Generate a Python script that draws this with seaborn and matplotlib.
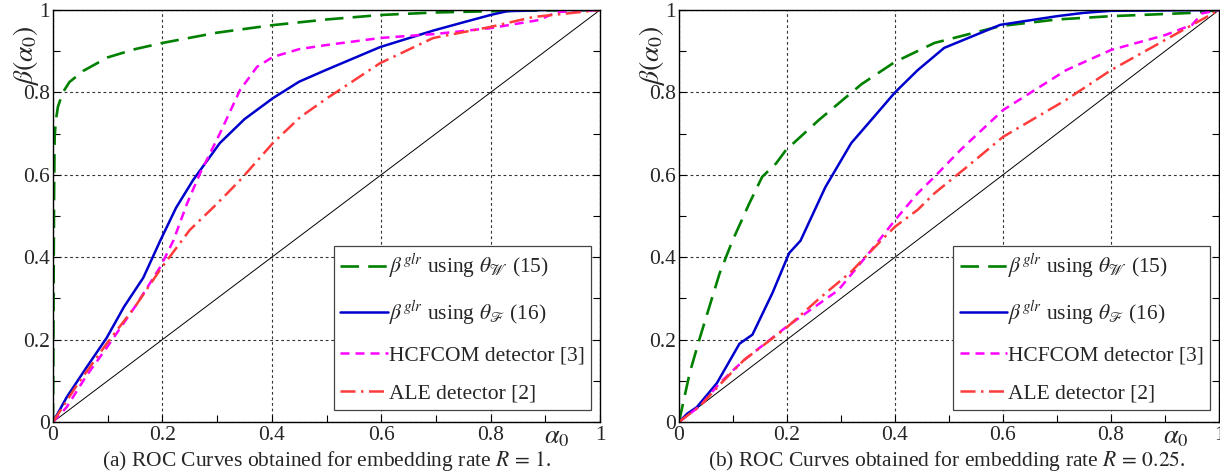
import numpy as np
import pandas as pd
import matplotlib
matplotlib.use("Agg")
import matplotlib.pyplot as plt
import seaborn as sns

# ---------------- data ----------------
# Panel (a): embedding rate R = 1
a_glrW_x = [0, 0.001, 0.002, 0.003, 0.005, 0.009, 0.018, 0.03, 0.055, 0.1, 0.15, 0.2, 0.3, 0.4, 0.5, 0.6, 0.7, 0.8, 0.9, 1.0]
a_glrW_y = [0, 0.30, 0.55, 0.69, 0.73, 0.765, 0.80, 0.825, 0.852, 0.885, 0.905, 0.92, 0.945, 0.963, 0.977, 0.988, 0.994, 0.997, 0.999, 1.0]
a_glrF_x = [0, 0.025, 0.06, 0.098, 0.13, 0.165, 0.196, 0.225, 0.256, 0.305, 0.35, 0.402, 0.45, 0.5, 0.598, 0.695, 0.75, 0.8, 0.83, 0.9, 1.0]
a_glrF_y = [0, 0.06, 0.13, 0.204, 0.28, 0.35, 0.44, 0.52, 0.587, 0.677, 0.735, 0.786, 0.826, 0.855, 0.91, 0.95, 0.97, 0.988, 0.997, 1.0, 1.0]
a_hcf_x = [0, 0.025, 0.06, 0.098, 0.15, 0.196, 0.22, 0.245, 0.269, 0.305, 0.342, 0.373, 0.402, 0.45, 0.5, 0.598, 0.7, 0.8, 0.89, 0.92, 1.0]
a_hcf_y = [0, 0.036, 0.11, 0.18, 0.28, 0.376, 0.44, 0.53, 0.604, 0.70, 0.806, 0.862, 0.886, 0.905, 0.915, 0.932, 0.942, 0.956, 0.976, 0.995, 1.0]
a_ale_x = [0, 0.044, 0.098, 0.15, 0.196, 0.25, 0.3, 0.342, 0.402, 0.452, 0.5, 0.598, 0.695, 0.8, 0.878, 1.0]
a_ale_y = [0, 0.09, 0.19, 0.28, 0.37, 0.466, 0.53, 0.587, 0.677, 0.74, 0.785, 0.871, 0.932, 0.959, 0.983, 1.0]

# Panel (b): embedding rate R = 0.25
b_glrW_x = [0, 0.02, 0.039, 0.075, 0.099, 0.13, 0.154, 0.18, 0.198, 0.259, 0.338, 0.4, 0.473, 0.595, 0.7, 0.8, 0.95, 1.0]
b_glrW_y = [0, 0.12, 0.206, 0.36, 0.44, 0.53, 0.595, 0.628, 0.66, 0.733, 0.82, 0.874, 0.92, 0.961, 0.977, 0.985, 0.993, 1.0]
b_glrF_x = [0, 0.015, 0.033, 0.07, 0.112, 0.136, 0.173, 0.204, 0.225, 0.271, 0.319, 0.356, 0.4, 0.442, 0.491, 0.595, 0.7, 0.749, 0.8, 1.0]
b_glrF_y = [0, 0.02, 0.036, 0.094, 0.19, 0.212, 0.313, 0.41, 0.44, 0.57, 0.677, 0.733, 0.80, 0.854, 0.908, 0.964, 0.985, 0.993, 0.998, 1.0]
b_hcf_x = [0, 0.04, 0.075, 0.12, 0.198, 0.295, 0.356, 0.4, 0.442, 0.473, 0.521, 0.6, 0.717, 0.8, 0.9, 0.95, 0.969, 1.0]
b_hcf_y = [0, 0.04, 0.094, 0.15, 0.23, 0.32, 0.417, 0.49, 0.555, 0.595, 0.66, 0.757, 0.854, 0.903, 0.939, 0.964, 0.992, 1.0]
b_ale_x = [0, 0.04, 0.075, 0.12, 0.2, 0.26, 0.319, 0.374, 0.4, 0.442, 0.473, 0.534, 0.6, 0.717, 0.8, 0.9, 1.0]
b_ale_y = [0, 0.04, 0.09, 0.15, 0.23, 0.30, 0.365, 0.44, 0.474, 0.515, 0.555, 0.62, 0.692, 0.782, 0.854, 0.927, 1.0]

series_labels = [r"$\beta^{glr}$ using $\theta_{\mathscr{W}}$ (15)",
                 r"$\beta^{glr}$ using $\theta_{\mathscr{F}}$ (16)",
                 "HCFCOM detector [3]",
                 "ALE detector [2]"]
tick_vals = [0, 0.2, 0.4, 0.6, 0.8, 1]
tick_labels = ["0", "0.2", "0.4", "0.6", "0.8", "1"]
captions = [r"(a) ROC Curves obtained for embedding rate $R\,=\,1$.",
            r"(b) ROC Curves obtained for embedding rate $R\,=\,0.25$."]

# ---------------- style ----------------
sns.set_style("ticks")
plt.rcParams["font.family"] = ["Liberation Serif", "DejaVu Serif"]
plt.rcParams["mathtext.fontset"] = "stix"
plt.rcParams["font.size"] = 15

colors = ["#008000", "#0000cc", "#ff00ff", "#ff3b3b"]
styles = [(0, (7.0, 3.5)), "-", (0, (3.6, 2.4)), (0, (6.0, 2.2, 1.0, 2.2))]
widths = [1.9, 1.8, 1.8, 1.8]

fig = plt.figure(figsize=(12.2, 4.74), dpi=100)
W, H = 1220, 474
axA = fig.add_axes([53 / W, (H - 422) / H, 547 / W, 412 / H])
axB = fig.add_axes([679 / W, (H - 422) / H, 540 / W, 412 / H])

panels = [
    (axA, [(a_glrW_x, a_glrW_y), (a_glrF_x, a_glrF_y), (a_hcf_x, a_hcf_y), (a_ale_x, a_ale_y)]),
    (axB, [(b_glrW_x, b_glrW_y), (b_glrF_x, b_glrF_y), (b_hcf_x, b_hcf_y), (b_ale_x, b_ale_y)]),
]

for idx, (ax, data) in enumerate(panels):
    # chance diagonal
    sns.lineplot(x=[0, 1], y=[0, 1], ax=ax, color="black", linewidth=0.7,
                 estimator=None, sort=False, legend=False)
    handles = []
    for (xs, ys), c, ls, lw, lab in zip(data, colors, styles, widths, series_labels):
        df = pd.DataFrame({"x": xs, "y": ys})
        sns.lineplot(data=df, x="x", y="y", ax=ax, color=c, linestyle=ls,
                     linewidth=lw, estimator=None, sort=False, legend=False)
        line = ax.lines[-1]
        line.set_label(lab)
        handles.append(line)

    ax.set_xlim(0, 1)
    ax.set_ylim(0, 1)
    ax.set_xticks(tick_vals)
    ax.set_xticklabels(tick_labels)
    ax.set_yticks(tick_vals)
    ax.set_yticklabels(tick_labels)
    ax.set_xticks(np.arange(0.1, 1.0, 0.2), minor=True)
    ax.set_yticks(np.arange(0.1, 1.0, 0.2), minor=True)
    ax.tick_params(which="both", direction="in", right=True, top=False,
                   labelsize=15.5, color="black")
    ax.tick_params(which="major", length=5, width=0.8)
    ax.tick_params(which="minor", length=5, width=0.8)
    ax.tick_params(axis="y", pad=2)
    ax.tick_params(axis="x", pad=3)
    ax.grid(True, which="major", color="#333333", linestyle=(0, (2.5, 2.5)), linewidth=0.8)
    for s in ax.spines.values():
        s.set_linewidth(1.0)
        s.set_color("black")
    ax.set_xlabel("")
    ax.set_ylabel("")

    ax.text(0.92, -0.04, r"$\alpha_0$", transform=ax.transAxes, ha="center",
            va="center", fontsize=19)
    ax.text(-0.05, 0.89, r"$\beta(\alpha_0)$", transform=ax.transAxes, ha="center",
            va="center", rotation=90, fontsize=20)

    leg = ax.legend(handles=handles, loc="lower right", bbox_to_anchor=(0.984, 0.029),
                    borderaxespad=0, frameon=True, fancybox=False, framealpha=1,
                    edgecolor="#444444", fontsize=15.5, handlelength=2.2,
                    handletextpad=0.05, labelspacing=0.85, borderpad=0.3)
    leg.get_frame().set_linewidth(0.9)

    cx = (53 + 600) / 2 / W if idx == 0 else (679 + 1219) / 2 / W - 0.002
    fig.text(cx, 1 - 461 / H, captions[idx], ha="center", va="center", fontsize=15.5)

fig.savefig("out.png", dpi=100)
